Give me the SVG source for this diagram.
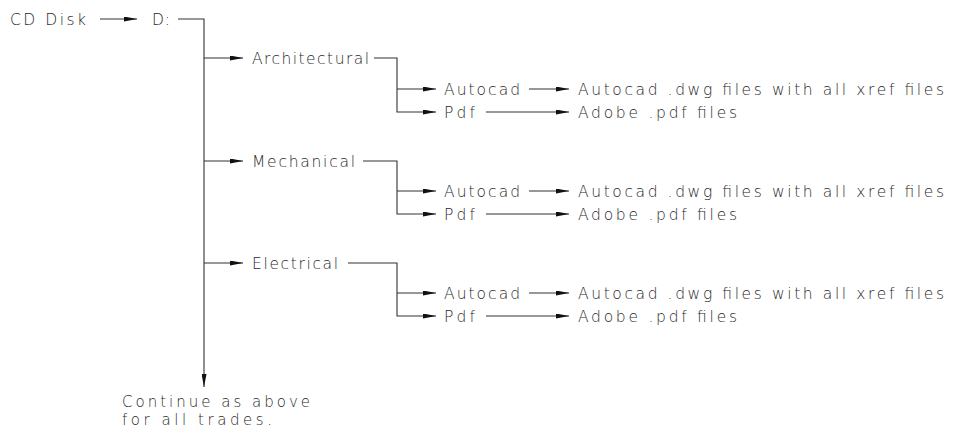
<svg xmlns="http://www.w3.org/2000/svg" width="955" height="431" viewBox="0 0 955 431">
<style>
  text { font-family: "DejaVu Sans", "Liberation Sans", sans-serif; font-weight: 200; font-size: 15.5px; fill: #2a2a2a; }
  .note { font-size: 15px; }
  .c { fill: none; stroke: #333; stroke-width: 1.1; }
  .a { marker-end: url(#ah); }
</style>
<defs>
  <marker id="ah" markerUnits="userSpaceOnUse" viewBox="0 0 13 5" markerWidth="13" markerHeight="5" refX="13" refY="2.5" orient="auto">
    <path d="M0,0 L13,2.5 L0,5 Z" fill="#111"/>
  </marker>
</defs>
<rect width="955" height="431" fill="#fff"/>

<g id="connectors">
  <path class="c a" d="M100,19 H137"/>
  <path class="c a" d="M178,19 H204 V387"/>
  <path class="c a" d="M204,58 H243"/>
  <path class="c a" d="M204,161 H243"/>
  <path class="c a" d="M204,263 H243"/>

  <path class="c a" d="M374,58 H397 V112 H436"/>
  <path class="c a" d="M397,89 H436"/>
  <path class="c a" d="M529,89 H569"/>
  <path class="c a" d="M486,112 H569"/>

  <path class="c a" d="M363,161 H397 V214 H436"/>
  <path class="c a" d="M397,191 H436"/>
  <path class="c a" d="M529,191 H569"/>
  <path class="c a" d="M486,214 H569"/>

  <path class="c a" d="M348,263 H397 V316 H436"/>
  <path class="c a" d="M397,293 H436"/>
  <path class="c a" d="M529,293 H569"/>
  <path class="c a" d="M486,316 H569"/>
</g>

<g id="cd-disk"><text x="10" y="24.5" textLength="76" lengthAdjust="spacing">CD Disk</text></g>
<g id="drive-d"><text x="152" y="24.5" textLength="18" lengthAdjust="spacing">D:</text></g>

<g id="architectural"><text x="252" y="63.5" textLength="117" lengthAdjust="spacing">Architectural</text></g>
<g id="arch-autocad"><text x="444" y="94.5" textLength="76" lengthAdjust="spacing">Autocad</text></g>
<g id="arch-pdf"><text x="444" y="117.5" textLength="31" lengthAdjust="spacing">Pdf</text></g>
<g id="arch-dwg"><text x="578" y="94.5" textLength="366" lengthAdjust="spacing">Autocad .dwg files with all xref files</text></g>
<g id="arch-adobe"><text x="578" y="117.5" textLength="159" lengthAdjust="spacing">Adobe .pdf files</text></g>

<g id="mechanical"><text x="252" y="166.5" textLength="103" lengthAdjust="spacing">Mechanical</text></g>
<g id="mech-autocad"><text x="444" y="196.5" textLength="76" lengthAdjust="spacing">Autocad</text></g>
<g id="mech-pdf"><text x="444" y="219.5" textLength="31" lengthAdjust="spacing">Pdf</text></g>
<g id="mech-dwg"><text x="578" y="196.5" textLength="366" lengthAdjust="spacing">Autocad .dwg files with all xref files</text></g>
<g id="mech-adobe"><text x="578" y="219.5" textLength="159" lengthAdjust="spacing">Adobe .pdf files</text></g>

<g id="electrical"><text x="252" y="268.5" textLength="86" lengthAdjust="spacing">Electrical</text></g>
<g id="elec-autocad"><text x="444" y="298.5" textLength="76" lengthAdjust="spacing">Autocad</text></g>
<g id="elec-pdf"><text x="444" y="321.5" textLength="31" lengthAdjust="spacing">Pdf</text></g>
<g id="elec-dwg"><text x="578" y="298.5" textLength="366" lengthAdjust="spacing">Autocad .dwg files with all xref files</text></g>
<g id="elec-adobe"><text x="578" y="321.5" textLength="159" lengthAdjust="spacing">Adobe .pdf files</text></g>

<g id="continue-note">
  <text class="note" x="122" y="407" textLength="188" lengthAdjust="spacing">Continue as above</text>
  <text class="note" x="122" y="425" textLength="150" lengthAdjust="spacing">for all trades.</text>
</g>
</svg>
